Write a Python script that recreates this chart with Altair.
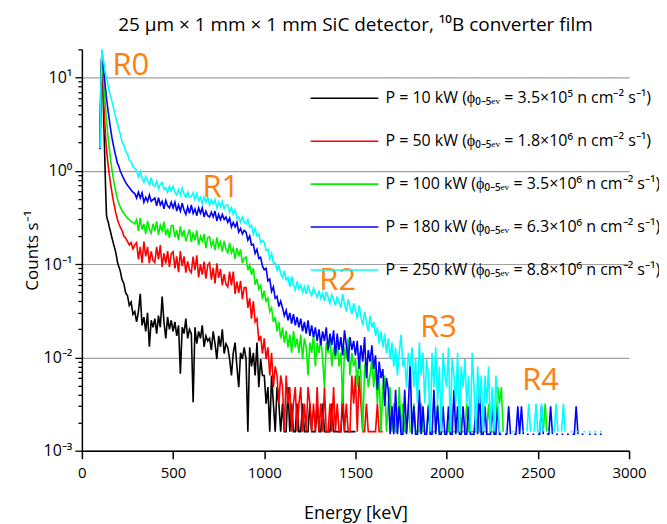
import altair as alt
import pandas as pd

# ---------------- data ----------------
energy = list(range(100, 200, 5)) + list(range(200, 2851, 10))  # channel energies [keV]
N = len(energy)

labels = [
    "P = 10 kW (ϕ₀₋₅ₑᵥ = 3.5×10⁵ n cm⁻² s⁻¹)",
    "P = 50 kW (ϕ₀₋₅ₑᵥ = 1.8×10⁶ n cm⁻² s⁻¹)",
    "P = 100 kW (ϕ₀₋₅ₑᵥ = 3.5×10⁶ n cm⁻² s⁻¹)",
    "P = 180 kW (ϕ₀₋₅ₑᵥ = 6.3×10⁶ n cm⁻² s⁻¹)",
    "P = 250 kW (ϕ₀₋₅ₑᵥ = 8.8×10⁶ n cm⁻² s⁻¹)",
]
colors = ["#000000", "#FF0000", "#00F000", "#0000FF", "#00FFFF"]

black = [
    2.5, 12, 18, 8.3, 3.5, 1.5, 0.65, 0.33, 0.3, 0.28, 0.25, 0.23, 0.21, 0.19, 0.175, 0.16, 0.148, 0.135, 0.12, 0.105,
    0.097, 0.085, 0.068, 0.062, 0.049, 0.046, 0.036, 0.039, 0.029, 0.031,
    0.024, 0.031, 0.048, 0.022, 0.027, 0.019, 0.030, 0.013, 0.025, 0.021,
    0.026, 0.018, 0.028, 0.021, 0.045, 0.024, 0.016, 0.027, 0.020, 0.025,
    0.019, 0.024, 0.017, 0.022, 0.0067, 0.021, 0.018, 0.026, 0.016, 0.020,
    0.018, 0.0033, 0.021, 0.014, 0.019, 0.016, 0.022, 0.013, 0.017, 0.015,
    0.016, 0.012, 0.019, 0.014, 0.0096, 0.017, 0.013, 0.020, 0.011, 0.014,
    0.0128, 0.0096, 0.0064, 0.0112, 0.0144, 0.008, 0.0048, 0.0112, 0.0096, 0.0128,
    0.0096, 0.0016, 0.0128, 0.008, 0.0112, 0.0064, 0.0144, 0.0048, 0.0096, 0.0064,
    0.0064, 0.0032, 0.0048, 0.0016, 0.0064, 0.0032, 0.0016, 0.0048, 0.0032, 0.0016,
    0.0032, 0.0016, 0.0016, 0.0048, 0.0016, 0.0032, 0.0016, 0.0016, 0.0032, 0.0016,
    0.0016, 0.0032, 0.0016, 0.0016, 0.0016, 0.0032, 0.0016, 0.0016, 0.0016, 0.0032,
    0.0016, 0.0016, 0.0032, 0.0016, 0.0016, 0.0016, 0.0016, 0.0032, 0.0016, 0.0016,
    0.0016, 0.0016, 0.0016, 0.0032, 0.0016, 0.0016, 0.0016, 0.0016, 0.0016, 0.0016, 0.0016,
]

red = [
    2.2, 10, 18, 10, 5.5, 3.4, 2.3, 1.7, 1.35, 1.1, 0.92, 0.78, 0.67, 0.58, 0.51, 0.45, 0.4, 0.36, 0.33, 0.3,
    0.28, 0.25, 0.23, 0.2, 0.19, 0.175, 0.16, 0.17, 0.145, 0.16,
    0.17, 0.112, 0.153, 0.103, 0.174, 0.121, 0.153, 0.102, 0.137, 0.109,
    0.104, 0.153, 0.112, 0.16, 0.093, 0.13, 0.101, 0.138, 0.093, 0.129,
    0.136, 0.09, 0.121, 0.082, 0.138, 0.095, 0.121, 0.081, 0.107, 0.086,
    0.081, 0.12, 0.086, 0.124, 0.072, 0.099, 0.077, 0.106, 0.07, 0.097,
    0.103, 0.068, 0.091, 0.062, 0.102, 0.071, 0.089, 0.059, 0.078, 0.061,
    0.057, 0.083, 0.059, 0.083, 0.048, 0.065, 0.049, 0.066, 0.042, 0.056,
    0.056, 0.034, 0.043, 0.026, 0.04, 0.024, 0.026, 0.015, 0.017, 0.011,
    0.016, 0.0096, 0.0128, 0.0064, 0.0112, 0.0048, 0.008, 0.0064, 0.0032, 0.0064,
    0.0048, 0.0016, 0.0064, 0.0032, 0.0048, 0.0016, 0.0032, 0.0048, 0.0016, 0.0032,
    0.0048, 0.0016, 0.0032, 0.0016, 0.0048, 0.0032, 0.0016, 0.0032, 0.0016, 0.0048,
    0.0016, 0.0032, 0.0016, 0.0048, 0.0016, 0.0016, 0.0032, 0.0016, 0.0048, 0.0016,
    0.0032, 0.0016, 0.0016, 0.0048, 0.0016, 0.0032, 0.0016, 0.0016, 0.0064, 0.0032,
    0.0064, 0.0016, 0.0064, 0.0032, 0.0016, 0.0016, 0.0032, 0.0016, 0.0016, 0.0016,
    0.0016, 0.0016, 0.0032, 0.0016, 0.0016, 0.0016,
]

green = [
    2.0, 9, 19, 12, 8.5, 6.2, 4.6, 3.5, 2.7, 2.15, 1.75, 1.45, 1.2, 1.02, 0.88, 0.77, 0.68, 0.61, 0.55, 0.5,
    0.46, 0.41, 0.375, 0.35, 0.33, 0.31, 0.3, 0.285, 0.28, 0.27,
    0.30, 0.225, 0.31, 0.235, 0.27, 0.21, 0.29, 0.235, 0.215, 0.27,
    0.225, 0.287, 0.206, 0.261, 0.228, 0.284, 0.204, 0.239, 0.191, 0.257,
    0.259, 0.195, 0.231, 0.18, 0.254, 0.197, 0.231, 0.176, 0.205, 0.236,
    0.172, 0.218, 0.179, 0.23, 0.16, 0.197, 0.176, 0.209, 0.148, 0.192,
    0.196, 0.155, 0.177, 0.141, 0.193, 0.152, 0.173, 0.136, 0.177, 0.144,
    0.132, 0.169, 0.132, 0.148, 0.114, 0.148, 0.121, 0.144, 0.102, 0.116,
    0.119, 0.086, 0.098, 0.077, 0.09, 0.06, 0.069, 0.054, 0.059, 0.042,
    0.052, 0.04, 0.043, 0.031, 0.034, 0.024, 0.027, 0.019, 0.024, 0.016,
    0.021, 0.0144, 0.0192, 0.0128, 0.0176, 0.0112, 0.0192, 0.0128, 0.016, 0.0112,
    0.0176, 0.0096, 0.016, 0.0128, 0.0064, 0.0144, 0.0112, 0.0176, 0.008, 0.0144,
    0.0112, 0.016, 0.0096, 0.0048, 0.0144, 0.0112, 0.0176, 0.008, 0.0128, 0.0096,
    0.0144, 0.008, 0.0112, 0.0032, 0.0128, 0.0096, 0.016, 0.0064, 0.0112, 0.008,
    0.0096, 0.0048, 0.0112, 0.0064, 0.0016, 0.008, 0.0096, 0.0048, 0.0064, 0.0096,
    0.0048, 0.008, 0.0032, 0.0064, 0.0016, 0.0048, 0.0064, 0.0016, 0.0032, 0.0048,
    0.0016, 0.0032, 0.0016, 0.0016, 0.0048, 0.0016, 0.0032, 0.0016, 0.0016, 0.0032,
    0.0016, 0.0016, 0.0032, 0.0016, 0.0016, 0.0016, 0.0032, 0.0016, 0.0016, 0.0016,
    0.0032, 0.0016, 0.0016, 0.0016, 0.0016, 0.0032, 0.0016, 0.0016, 0.0016, 0.0016,
    0.0016, 0.0016, 0.0032, 0.0016, 0.0016, 0.0016, 0.0016, 0.0032, 0.0016, 0.0016,
    0.0016, 0.0032, 0.0016, 0.0016, 0.0016, 0.0016, 0.0016, 0.0032, 0.0016, 0.0016,
    0.0016, 0.0016, 0.0016, 0.0032, 0.0016, 0.0016, 0.0016, 0.0016, 0.0048, 0.0032,
    0.0048, 0.0016, None, 0.0016, None, None, None, None, None, None,
    None, None, None, None, None, None, None, None, None, None,
    None, None, None, 0.0016, 0.0032, 0.0016, None, None, None, None,
]

blue = [
    1.7, 8, 19, 15, 11.5, 9.2, 7.4, 6.0, 5.0, 4.2, 3.55, 3.0, 2.6, 2.25, 2.0, 1.78, 1.6, 1.45, 1.32, 1.2,
    1.15, 1.0, 0.9, 0.82, 0.75, 0.7, 0.66, 0.62, 0.59, 0.57,
    0.51, 0.59, 0.51, 0.58, 0.46, 0.52, 0.47, 0.55, 0.47, 0.49,
    0.51, 0.42, 0.515, 0.43, 0.47, 0.39, 0.48, 0.42, 0.40, 0.46,
    0.40, 0.46, 0.37, 0.43, 0.37, 0.45, 0.38, 0.34, 0.41, 0.35,
    0.43, 0.35, 0.39, 0.33, 0.40, 0.35, 0.40, 0.32, 0.37, 0.33,
    0.32, 0.36, 0.32, 0.37, 0.29, 0.34, 0.30, 0.34, 0.30, 0.32,
    0.28, 0.31, 0.25, 0.28, 0.25, 0.28, 0.22, 0.24, 0.21, 0.23,
    0.22, 0.18, 0.20, 0.16, 0.163, 0.13, 0.144, 0.115, 0.118, 0.095,
    0.087, 0.09, 0.066, 0.069, 0.051, 0.057, 0.043, 0.045, 0.035, 0.040,
    0.034, 0.028, 0.032, 0.025, 0.03, 0.023, 0.029, 0.022, 0.027, 0.021,
    0.026, 0.019, 0.024, 0.018, 0.025, 0.017, 0.022, 0.0165, 0.021, 0.015,
    0.02, 0.0135, 0.019, 0.015, 0.021, 0.012, 0.018, 0.0135, 0.0195, 0.0105,
    0.018, 0.012, 0.0165, 0.0105, 0.0195, 0.0135, 0.009, 0.0165, 0.012, 0.015,
    0.0105, 0.015, 0.0075, 0.0135, 0.009, 0.0165, 0.006, 0.012, 0.009, 0.0135,
    0.0075, 0.0105, 0.0045, 0.009, 0.006, 0.0075, 0.003, 0.006, 0.0045, 0.0015,
    0.003, 0.0015, 0.0045, 0.0015, 0.003, 0.0015, 0.0015, 0.0045, 0.0015, 0.003,
    0.009, 0.0015, 0.003, 0.0015, 0.0015, 0.0045, 0.0015, 0.003, 0.0015, 0.0015,
    0.003, 0.0015, 0.0015, 0.0045, 0.0015, 0.003, 0.0015, 0.0015, 0.003, 0.0015,
    0.0015, 0.003, 0.0015, 0.0015, 0.0045, 0.0015, 0.003, 0.0015, 0.0015, 0.003,
    0.0015, 0.0015, 0.003, 0.0015, 0.0015, 0.0015, 0.003, 0.0015, 0.0045, 0.0015,
    0.0015, 0.003, 0.0015, 0.0015, 0.0015, 0.003, 0.0015, 0.0015, 0.003, 0.0015,
    0.0015, None, 0.0015, 0.0015, 0.003, 0.0015, None, 0.0015, 0.0015, 0.003,
    0.0015, 0.003, 0.0015, None, 0.0015, 0.0015, None, 0.0015, 0.0015, None,
    0.0015, 0.0015, 0.003, 0.0015, None, 0.0015, 0.0015, 0.003, 0.0015, None,
    0.0015, 0.0015, None, 0.0015, 0.0015, None, 0.0015, 0.0015, None, 0.0015,
    0.0015, 0.003, 0.0015, None, 0.0015, 0.0015, None, None, 0.0015, 0.0015,
    None, 0.0015, 0.0015, None, 0.0015, 0.0015,
]

cyan = [
    1.75, 9, 20, 17, 14.5, 12.5, 11, 9.8, 8.8, 7.9, 7.1, 6.5, 6.0, 5.5, 5.0, 4.6, 4.2, 3.8, 3.5, 3.2,
    2.9, 2.5, 2.05, 1.9, 1.62, 1.5, 1.3, 1.25, 1.1, 1.06,
    1.0, 0.86, 0.98, 0.83, 0.75, 0.87, 0.79, 0.71, 0.84, 0.70,
    0.68, 0.77, 0.64, 0.72, 0.75, 0.63, 0.66, 0.59, 0.68, 0.61,
    0.68, 0.59, 0.55, 0.63, 0.55, 0.65, 0.56, 0.52, 0.59, 0.52,
    0.53, 0.58, 0.49, 0.57, 0.48, 0.52, 0.445, 0.52, 0.46, 0.52,
    0.43, 0.49, 0.44, 0.49, 0.40, 0.46, 0.41, 0.47, 0.39, 0.43,
    0.43, 0.36, 0.40, 0.34, 0.38, 0.31, 0.32, 0.28, 0.32, 0.28,
    0.27, 0.30, 0.25, 0.26, 0.21, 0.24, 0.20, 0.21, 0.17, 0.18,
    0.17, 0.14, 0.144, 0.114, 0.13, 0.103, 0.103, 0.086, 0.096, 0.079,
    0.072, 0.085, 0.068, 0.072, 0.057, 0.074, 0.06, 0.053, 0.065, 0.054,
    0.06, 0.05, 0.057, 0.048, 0.058, 0.051, 0.046, 0.055, 0.049, 0.044,
    0.052, 0.043, 0.049, 0.04, 0.051, 0.044, 0.038, 0.047, 0.042, 0.036,
    0.045, 0.039, 0.034, 0.048, 0.037, 0.031, 0.042, 0.035, 0.029, 0.038,
    0.032, 0.026, 0.036, 0.027, 0.022, 0.031, 0.024, 0.019, 0.028, 0.021,
    0.024, 0.017, 0.021, 0.014, 0.019, 0.0128, 0.018, 0.0112, 0.016, 0.0096,
    0.0144, 0.008, 0.0128, 0.0064, 0.0112, 0.0176, 0.008, 0.0096, 0.0048, 0.0112,
    0.008, 0.0128, 0.0048, 0.0096, 0.0032, 0.0144, 0.0064, 0.0112, 0.0032, 0.0096,
    0.0064, 0.0016, 0.0112, 0.0048, 0.0128, 0.0032, 0.008, 0.0016, 0.0112, 0.0064,
    0.0048, 0.0128, 0.0016, 0.0096, 0.0064, 0.0032, 0.0112, 0.0016, 0.008, 0.0048,
    0.0096, 0.0032, 0.0064, 0.0016, 0.0112, 0.0048, 0.0016, 0.008, 0.0032, 0.0064,
    0.0016, 0.0064, 0.0032, 0.008, 0.0016, 0.0048, 0.0016, 0.0064, 0.0032, 0.0016,
    0.0016, None, 0.0016, 0.0016, None, None, 0.0016, 0.0016, None, 0.0016,
    None, 0.0016, 0.0016, None, 0.0016, 0.0032, 0.0016, None, 0.0016, 0.0032,
    0.0016, 0.0016, 0.0032, 0.0016, None, 0.0016, 0.0016, None, 0.0016, 0.0016,
    0.0032, 0.0016, None, 0.0016, 0.0032, 0.0016, None, None, 0.0016, 0.0016,
    None, 0.0016, 0.0016, None, None, 0.0016, 0.0016, None, 0.0016, 0.0016,
    None, 0.0016, 0.0016, None, 0.0016, 0.0016,
]

region_names = ["R0", "R1", "R2", "R3", "R4"]
region_energy = [168, 661, 1302, 1855, 2414]
region_counts = [10.6, 0.523, 0.0526, 0.0165, 0.00446]

x_ticks = [0, 500, 1000, 1500, 2000, 2500, 3000]
y_ticks = [k * 10.0 ** d for d in range(-3, 2) for k in range(1, 10)] + [20.0]

title_text = "25 μm × 1 mm × 1 mm SiC detector, ¹⁰B converter film"
x_title = "Energy [keV]"
y_title = "Counts s⁻¹"

# ---------------- build table ----------------
rows = []
for name, vals in zip(labels, [black, red, green, blue, cyan]):
    vals = list(vals) + [None] * (N - len(vals))
    for e, v in zip(energy, vals):
        rows.append({"series": name, "energy": e, "counts": v})
df = pd.DataFrame(rows)
reg = pd.DataFrame({"name": region_names, "energy": region_energy, "counts": region_counts})

FONT = "Open Sans"
decade_test = ("datum.value == 0.001 || datum.value == 0.01 || datum.value == 0.1 "
               "|| datum.value == 1 || datum.value == 10")
ylab = ("datum.value == 10 ? '10¹' : datum.value == 1 ? '10⁰' : datum.value == 0.1 ? '10⁻¹' : "
        "datum.value == 0.01 ? '10⁻²' : datum.value == 0.001 ? '10⁻³' : ''")

xenc = alt.X("energy:Q", scale=alt.Scale(domain=[0, 3000], nice=False),
             axis=alt.Axis(values=x_ticks, format="d", title=x_title, grid=False, tickSize=8,
                           tickWidth=1.5, tickColor="black", domainColor="black", domainWidth=1.5,
                           labelFontSize=15, labelFont=FONT, labelColor="black", labelPadding=7,
                           labelFlush=False, titleFontSize=18, titleFont=FONT,
                           titleFontWeight="normal", titleColor="black", titlePadding=24))
yenc = alt.Y("counts:Q", scale=alt.Scale(type="log", domain=[0.001, 20], nice=False),
             axis=alt.Axis(values=y_ticks, labelExpr=ylab, labelOverlap=False, title=y_title,
                           grid=True, gridColor="#A0A0A0", gridWidth=1.2,
                           gridOpacity={"condition": {"test": decade_test, "value": 1}, "value": 0},
                           tickSize={"condition": {"test": decade_test, "value": 7}, "value": 4},
                           tickWidth=1.3, tickColor="black", domainColor="black", domainWidth=1.5,
                           labelFontSize=16, labelFont=FONT, labelColor="black", labelPadding=3,
                           labelFlush=False, titleFontSize=17, titleFont=FONT,
                           titleFontWeight="normal", titleColor="black", titlePadding=2))
cenc = alt.Color("series:N", scale=alt.Scale(domain=labels, range=colors),
                 legend=alt.Legend(title=None, orient="none", legendX=228, legendY=14,
                                   symbolType="stroke", symbolSize=4600, symbolStrokeWidth=1.6,
                                   labelFontSize=16, labelFont=FONT, labelColor="black",
                                   labelLimit=420, labelOffset=6, rowPadding=-3))

layers = []
for name in labels:
    layers.append(
        alt.Chart(df).transform_filter(alt.datum.series == name)
        .mark_line(strokeWidth=1.6, invalid="break-paths-filter-domains")
        .encode(x=xenc, y=yenc, color=cenc)
    )

texts = alt.Chart(reg).mark_text(align="left", baseline="alphabetic", fontSize=31,
                                 font=FONT, color="#FF7F0E").encode(
    x="energy:Q", y="counts:Q", text="name:N")

chart = alt.layer(*layers, texts).properties(
    width=548, height=402,
    title=alt.Title(title_text, fontSize=19, font=FONT, fontWeight="normal", color="black",
                    anchor="middle", offset=6),
    padding={"left": 74, "top": 41, "right": 30, "bottom": 72},
    autosize=alt.AutoSizeParams(type="none"),
).configure_view(stroke=None)

chart.save("out.html", embed_options={"renderer": "svg", "actions": False})
